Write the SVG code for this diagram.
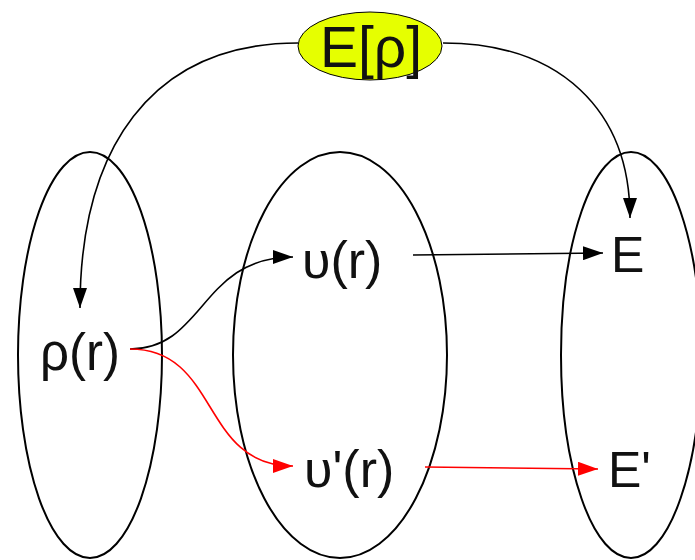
<svg xmlns="http://www.w3.org/2000/svg" width="695" height="560" viewBox="0 0 695 560">
<style>
.set{fill:none;stroke:#000;stroke-width:2}
.lbl{font-family:"Liberation Sans",Arial,sans-serif;fill:#111}
.c{fill:none;stroke:#000;stroke-width:1.6}
.r{stroke:#ff0000}
</style>
<defs>
<marker id="ab" markerUnits="userSpaceOnUse" markerWidth="20" markerHeight="14" refX="20" refY="7" orient="auto"><path d="M0,0 L20,7 L0,14 z" fill="#000"/></marker>
<marker id="ar" markerUnits="userSpaceOnUse" markerWidth="20" markerHeight="14" refX="20" refY="7" orient="auto"><path d="M0,0 L20,7 L0,14 z" fill="#ff0000"/></marker>
</defs>
<rect width="695" height="560" fill="#fff"/>
<g id="set-rho"><ellipse class="set" cx="90" cy="355" rx="72" ry="203"/></g>
<g id="set-v"><ellipse class="set" cx="340" cy="355" rx="107" ry="203"/></g>
<g id="set-E"><ellipse class="set" cx="631" cy="355" rx="70" ry="203"/></g>
<g id="connectors">
<path class="c" d="M298,43 C150,43 80,150 80,308" marker-end="url(#ab)"/>
<path class="c" d="M443,43 C560,43 630,110 630,218" marker-end="url(#ab)"/>
<path class="c" d="M130,349 C205,349 200,257 293,257" marker-end="url(#ab)"/>
<path class="c r" d="M130,349 C220,349 200,466 293,466" marker-end="url(#ar)"/>
<path class="c" d="M413,255 L603,253" marker-end="url(#ab)"/>
<path class="c r" d="M425,467 L598,469" marker-end="url(#ar)"/>
</g>
<g id="node-Erho"><ellipse cx="370" cy="46" rx="72" ry="34" fill="#e6ff00" stroke="#000" stroke-width="1"/><text class="lbl" x="371" y="67" font-size="57" text-anchor="middle">E[ρ]</text></g>
<g id="node-rho"><text class="lbl" x="40" y="370" font-size="51">ρ(r)</text></g>
<g id="node-v"><text class="lbl" x="302" y="278" font-size="52">υ(r)</text></g>
<g id="node-E"><text class="lbl" x="611" y="272" font-size="50">E</text></g>
<g id="node-v2"><text class="lbl" x="304" y="487" font-size="52">υ'(r)</text></g>
<g id="node-E2"><text class="lbl" x="608" y="487" font-size="50">E'</text></g>
</svg>
